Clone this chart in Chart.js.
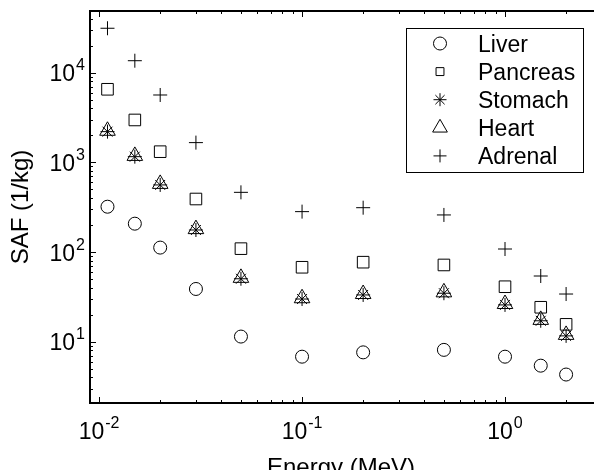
<!DOCTYPE html>
<html>
<head>
<meta charset="utf-8">
<script src="https://cdn.jsdelivr.net/npm/chart.js@4/dist/chart.umd.min.js"></script>
<style>
  html, body { margin: 0; padding: 0; background: #fff; overflow: hidden; }
  #saf { display: block; }
</style>
</head>
<body>
<canvas id="saf" width="602" height="470"></canvas>
<script>
// photon energies (MeV) and SAF values (1/kg)
const energy   = [0.011, 0.015, 0.02, 0.03, 0.05, 0.1, 0.2, 0.5, 1, 1.5, 2];
const liver    = [320, 207, 112, 38.7, 11.4, 6.8, 7.6, 8.1, 6.8, 5.4, 4.3];
const pancreas = [6530, 2970, 1315, 390, 109, 67.6, 77, 71.7, 41, 24.2, 15.6];
const stomach  = [2200, 1157, 560, 176, 50.3, 29.9, 33.2, 34.7, 25.7, 17.1, 11.6];
const heart    = [2250, 1180, 575, 180, 51.5, 30.5, 34, 35.5, 26.3, 17.5, 11.9];
const adrenal  = [31300, 13600, 5640, 1660, 463, 282, 312, 259, 108, 54, 34];

const organs = ['Liver', 'Pancreas', 'Stomach', 'Heart', 'Adrenal'];
const xTickExps = [-2, -1, 0];
const yTickExps = [1, 2, 3, 4];

const FONT = 'Liberation Sans, Arial, Helvetica, sans-serif';

const markers = [
  { pointStyle: 'circle',   radius: 6.5, legendRadius: 6.5 },
  { pointStyle: 'rect',     radius: 8.2, legendRadius: 5.6 },
  { pointStyle: 'star',     radius: 7,   legendRadius: 6.5 },
  { pointStyle: 'triangle', radius: 9,   legendRadius: 8.5 },
  { pointStyle: 'cross',    radius: 7,   legendRadius: 6.5 }
];

function toPoints(values) {
  return energy.map((e, i) => ({ x: e, y: values[i] }));
}

const series = [liver, pancreas, stomach, heart, adrenal];

const datasets = series.map((vals, i) => ({
  label: organs[i],
  data: toPoints(vals),
  pointStyle: markers[i].pointStyle,
  pointRadius: markers[i].radius,
  borderColor: '#000',
  backgroundColor: 'rgba(0,0,0,0)',
  borderWidth: 1,
  showLine: false
}));

function drawPow(ctx, exp, x, y, align) {
  ctx.font = '23px ' + FONT;
  const w1 = ctx.measureText('10').width;
  ctx.font = '16px ' + FONT;
  const expText = String(exp);
  const w2 = ctx.measureText(expText).width;
  const total = w1 + 1 + w2;
  let start = align === 'right' ? x - total : x - total / 2;
  ctx.textAlign = 'left';
  ctx.textBaseline = 'alphabetic';
  ctx.font = '23px ' + FONT;
  ctx.fillText('10', start, y);
  ctx.font = '16px ' + FONT;
  ctx.fillText(expText, start + w1 + 1, y - 11);
}

const matlabAxes = {
  id: 'matlabAxes',
  afterDraw(chart) {
    const ctx = chart.ctx;
    const area = chart.chartArea;
    const xs = chart.scales.x;
    const ys = chart.scales.y;
    ctx.save();
    ctx.strokeStyle = '#000';
    ctx.fillStyle = '#000';

    // frame (right side falls off the picture)
    ctx.lineWidth = 2;
    ctx.beginPath();
    ctx.moveTo(area.right + 2, area.top);
    ctx.lineTo(area.left, area.top);
    ctx.lineTo(area.left, area.bottom);
    ctx.lineTo(area.right + 2, area.bottom);
    ctx.stroke();

    // inward log ticks
    ctx.lineWidth = 1;
    ctx.beginPath();
    for (let d = -3; d <= 1; d++) {
      for (let m = 1; m <= 9; m++) {
        const v = m * Math.pow(10, d);
        if (v < xs.min || v > xs.max) continue;
        const px = Math.round(xs.getPixelForValue(v)) + 0.5;
        const len = m === 1 ? 6 : 3;
        ctx.moveTo(px, area.bottom);
        ctx.lineTo(px, area.bottom - len);
        ctx.moveTo(px, area.top);
        ctx.lineTo(px, area.top + len);
      }
    }
    for (let d = 0; d <= 5; d++) {
      for (let m = 1; m <= 9; m++) {
        const v = m * Math.pow(10, d);
        if (v < ys.min || v > ys.max) continue;
        const py = Math.round(ys.getPixelForValue(v)) + 0.5;
        const len = m === 1 ? 6 : 3;
        ctx.moveTo(area.left, py);
        ctx.lineTo(area.left + len, py);
      }
    }
    ctx.stroke();

    // tick labels
    xTickExps.forEach(e => {
      drawPow(ctx, e, xs.getPixelForValue(Math.pow(10, e)), 439, 'center');
    });
    yTickExps.forEach(e => {
      drawPow(ctx, e, area.left - 5, ys.getPixelForValue(Math.pow(10, e)) + 8.5, 'right');
    });

    // legend box
    const box = { left: 406.5, top: 28.5, width: 177, height: 144 };
    ctx.lineWidth = 1;
    ctx.strokeRect(box.left, box.top, box.width, box.height);
    ctx.font = '23px ' + FONT;
    ctx.textAlign = 'left';
    ctx.textBaseline = 'alphabetic';
    organs.forEach((name, i) => {
      const cy = 43.5 + 28.1 * i;
      if (Chart.helpers && Chart.helpers.drawPoint) {
        ctx.fillStyle = 'rgba(0,0,0,0)';
        ctx.strokeStyle = '#000';
        ctx.lineWidth = 1;
        Chart.helpers.drawPoint(ctx, {
          pointStyle: markers[i].pointStyle,
          radius: markers[i].legendRadius,
          rotation: 0,
          borderWidth: 1
        }, 440, cy);
      }
      ctx.fillStyle = '#000';
      ctx.fillText(name, 478, cy + 8.2);
    });
    ctx.restore();
  }
};

new Chart(document.getElementById('saf'), {
  type: 'scatter',
  data: { datasets: datasets },
  options: {
    responsive: false,
    animation: false,
    events: [],
    layout: { padding: { top: 11, right: 0, left: 0, bottom: 0 } },
    plugins: {
      legend: { display: false },
      tooltip: { enabled: false }
    },
    scales: {
      x: {
        type: 'logarithmic',
        min: 0.00902,
        max: 2.683,
        grid: { display: false },
        border: { display: false },
        ticks: { display: false },
        title: {
          display: true,
          text: 'Energy (MeV)',
          color: '#000',
          font: { family: FONT, size: 24, lineHeight: 1 },
          padding: { top: 0, bottom: -10 }
        },
        afterFit: s => { s.height = 67; }
      },
      y: {
        type: 'logarithmic',
        min: 2.07,
        max: 48750,
        grid: { display: false },
        border: { display: false },
        ticks: { display: false },
        title: {
          display: true,
          text: 'SAF (1/kg)',
          color: '#000',
          font: { family: FONT, size: 24 },
          padding: { top: 7, bottom: 0 }
        },
        afterFit: s => { s.width = 90; }
      }
    }
  },
  plugins: [matlabAxes]
});
</script>
</body>
</html>
